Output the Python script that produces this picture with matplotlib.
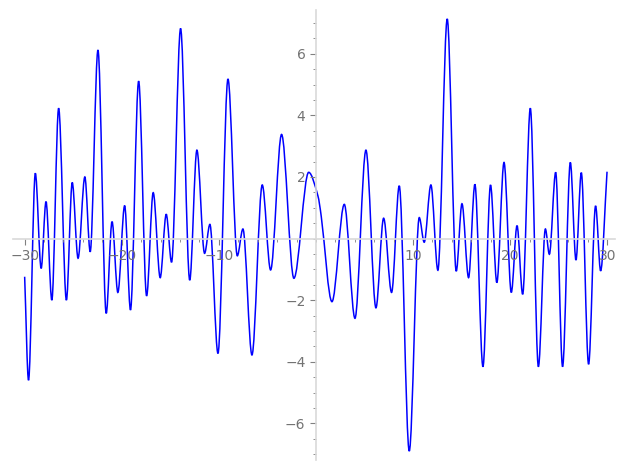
import matplotlib
matplotlib.use("Agg")
import matplotlib.pyplot as plt
from matplotlib.path import Path
from matplotlib.patches import PathPatch
from matplotlib.ticker import MultipleLocator

# points (extrema and a few shoulder points)
x_pts = [-30.0, -29.6, -28.9, -28.3, -27.8, -27.2, -26.5, -25.7, -25.1, -24.5,
         -23.8, -23.25, -22.45, -21.6, -21.0, -20.4, -19.7, -19.1, -18.26, -17.44,
         -16.76, -16.04, -15.42, -14.87, -13.94, -13.0, -12.26, -11.47, -10.92, -10.09,
         -9.06, -8.1, -7.52, -6.59, -5.53, -4.67, -3.54, -2.27, -0.75, 0.2,
         0.55, 1.65, 2.92, 4.02, 5.15, 6.18, 6.97, 7.79, 8.58, 9.61,
         10.64, 11.15, 11.84, 12.56, 13.52, 14.45, 15.04, 15.72, 16.37, 17.2,
         17.98, 18.63, 19.37, 20.12, 20.71, 21.29, 22.08, 22.91, 23.63, 24.04,
         24.69, 25.4, 26.2, 26.78, 27.33, 28.08, 28.8, 29.32, 29.98]
y_pts = [-1.24, -4.6, 2.12, -0.97, 1.2, -2.0, 4.23, -2.0, 1.82, -0.64,
         2.0, -0.43, 6.12, -2.43, 0.55, -1.75, 1.07, -2.32, 5.11, -1.86,
         1.49, -1.27, 0.79, -0.77, 6.82, -1.35, 2.87, -0.48, 0.46, -3.73,
         5.18, -0.56, 0.31, -3.78, 1.74, -1.02, 3.38, -1.29, 2.15, 1.39,
         0.71, -2.05, 1.11, -2.59, 2.87, -2.25, 0.66, -1.75, 1.71, -6.9,
         0.68, -0.12, 1.74, -1.03, 7.13, -1.06, 1.13, -1.27, 1.76, -4.16,
         1.74, -1.43, 2.47, -1.75, 0.42, -1.81, 4.23, -4.16, 0.31, -0.51,
         2.15, -4.16, 2.47, -0.7, 2.14, -4.08, 1.06, -1.05, 2.17]

x_ticks = [-30, -20, -10, 10, 20, 30]
y_ticks = [-6, -4, -2, 2, 4, 6]

fig = plt.figure(figsize=(6.27, 4.70), dpi=100)
ax = fig.add_axes([13 / 627, 10 / 470, 602 / 627, 450 / 470])

# slope at each read point: flat at peaks/troughs, neighbour slope otherwise
n = len(x_pts)
slopes = []
for i in range(n):
    if i == 0:
        slopes.append((y_pts[1] - y_pts[0]) / (x_pts[1] - x_pts[0]))
    elif i == n - 1:
        slopes.append((y_pts[-1] - y_pts[-2]) / (x_pts[-1] - x_pts[-2]))
    elif (y_pts[i] - y_pts[i - 1]) * (y_pts[i + 1] - y_pts[i]) <= 0:
        slopes.append(0.0)
    else:
        slopes.append((y_pts[i + 1] - y_pts[i - 1]) / (x_pts[i + 1] - x_pts[i - 1]))

# smooth curve through the read points, drawn as bezier segments in data coords
verts = [(x_pts[0], y_pts[0])]
codes = [Path.MOVETO]
for i in range(n - 1):
    h = (x_pts[i + 1] - x_pts[i]) / 3
    verts += [(x_pts[i] + h, y_pts[i] + slopes[i] * h),
              (x_pts[i + 1] - h, y_pts[i + 1] - slopes[i + 1] * h),
              (x_pts[i + 1], y_pts[i + 1])]
    codes += [Path.CURVE4] * 3
curve = PathPatch(Path(verts, codes), fill=False, edgecolor="#0000ff",
                  lw=1.1, transform=ax.transData)
ax.add_patch(curve)

ax.set_xlim(-31.2, 30.8)
ax.set_ylim(-7.19, 7.42)

# axes cross at the origin, sage style
for side in ["top", "right"]:
    ax.spines[side].set_visible(False)
ax.spines["left"].set_position(("data", 0))
ax.spines["bottom"].set_position(("data", 0))
for side in ["left", "bottom"]:
    ax.spines[side].set_color("#d9d9d9")
    ax.spines[side].set_linewidth(1.2)

ax.set_xticks(x_ticks)
ax.set_yticks(y_ticks)
ax.xaxis.set_minor_locator(MultipleLocator(2))
ax.yaxis.set_minor_locator(MultipleLocator(0.5))
ax.tick_params(which="both", colors="0.5", labelcolor="0.45", labelsize=10)
ax.tick_params(which="major", length=4, width=0.8)
ax.tick_params(which="minor", length=2, width=0.6)
ax.patch.set_alpha(0)

fig.savefig("out.png", dpi=100)
